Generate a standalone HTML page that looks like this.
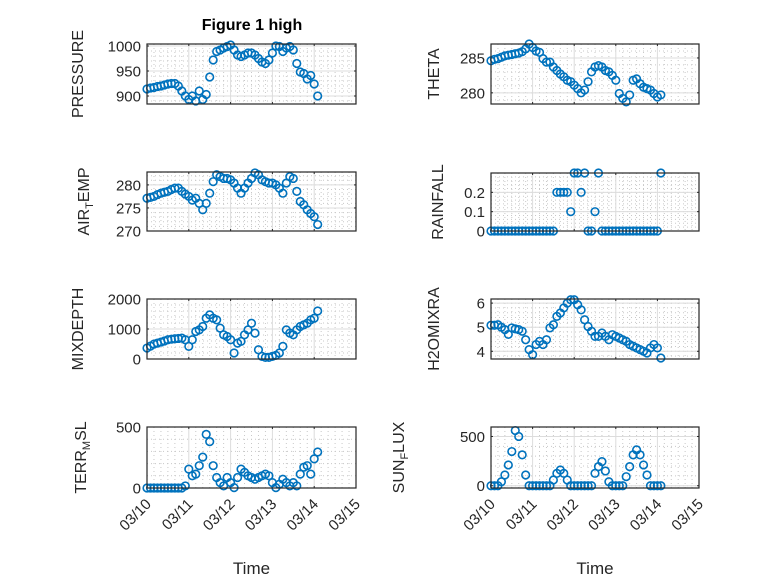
<!DOCTYPE html>
<html><head><meta charset="utf-8"><style>
html,body{margin:0;padding:0;background:#fff;}
svg{display:block;font-family:"Liberation Sans","DejaVu Sans",sans-serif;}
</style></head><body>
<svg id="fig" width="778" height="583" viewBox="0 0 778 583" xmlns="http://www.w3.org/2000/svg">
<rect width="778" height="583" fill="#fff"/>
<text x="252" y="30" text-anchor="middle" font-size="16" font-weight="bold" fill="#000">Figure 1 high</text>
</svg>
<script>
// shared time axis (hours since 03/10 00:00)
const hours = [0,2,4,6,8,10,12,14,16,18,20,22,24,26,28,30,32,34,36,38,40,42,44,46,48,50,52,54,56,58,60,62,64,66,68,70,72,74,76,78,80,82,84,86,88,90,92,94,96,98];
const xTickLabels = ["03/10","03/11","03/12","03/13","03/14","03/15"];
const pressure = [914,916,917,919,920,922,924,925,925,920,910,900,893,900,890,910,893,903,938,972,989,992,996,999,1002,992,982,979,982,986,986,982,975,968,965,972,986,1000,999,989,996,999,992,965,948,945,934,941,924,900];
const theta = [284.6,284.8,284.9,285.1,285.3,285.4,285.5,285.6,285.7,285.9,286.3,287,286.5,286,285.8,284.9,284.4,284.4,283.7,283.2,282.7,282.3,281.8,281.6,281.1,280.6,280,280.4,281.6,283,283.7,283.9,283.7,283.2,283,282.5,281.8,279.9,279.2,278.7,279.7,281.8,282,281.3,280.8,280.6,280.4,279.9,279.4,279.7];
const airTemp = [277.1,277.3,277.5,277.9,278.2,278.4,278.6,279,279.3,279.3,278.6,278,277.5,276.7,277.1,276,274.6,276,278.2,280.7,282.2,281.8,281.4,281.4,281.1,280.4,279.3,278.2,279.3,280.4,281.4,282.6,282.2,281.1,280.7,280.4,280.4,280,279.3,278.2,280.4,281.8,281.4,278.6,276.4,275.7,274.6,273.8,273.1,271.4];
const rainfall = [0,0,0,0,0,0,0,0,0,0,0,0,0,0,0,0,0,0,0,0.2,0.2,0.2,0.2,0.1,0.3,0.3,0.2,0.3,0,0,0.1,0.3,0,0,0,0,0,0,0,0,0,0,0,0,0,0,0,0,0,0.3];
const mixDepth = [365,430,497,530,564,600,641,660,674,685,696,641,420,641,917,972,1083,1359,1470,1359,1304,1028,807,751,641,199,530,586,807,972,1193,862,309,88,55,55,88,122,199,420,972,862,807,972,1083,1138,1193,1304,1359,1600];
const h2oMix = [5.08,5.08,5.1,5.0,4.9,4.7,4.97,4.93,4.9,4.83,4.48,4.07,3.86,4.28,4.41,4.28,4.48,4.97,5.1,5.45,5.59,5.8,6,6.14,6.14,5.93,5.72,5.31,5.03,4.83,4.62,4.62,4.76,4.62,4.48,4.69,4.62,4.55,4.48,4.41,4.28,4.21,4.14,4.07,4,3.93,4.14,4.28,4.14,3.72];
const terrMsl = [0,0,0,0,0,0,0,0,0,0,0,17,155,100,114,183,253,440,380,183,86,44,17,86,44,3,86,155,128,100,86,72,86,100,114,100,44,3,31,72,44,17,44,17,114,170,183,114,239,295];
const sunFlux = [0,0,0,41,109,211,347,560,500,313,109,0,0,0,0,0,0,0,58,126,160,126,58,0,0,0,0,0,0,0,126,194,245,150,41,0,0,0,0,92,194,313,364,313,211,109,0,0,0,0];

const NS="http://www.w3.org/2000/svg";
const svg=document.getElementById('fig');
function mk(tag,attrs,parent){const e=document.createElementNS(NS,tag);for(const k in attrs)e.setAttribute(k,attrs[k]);(parent||svg).appendChild(e);return e;}

const panels=[
 {name:'pressure',label:['PRESSURE'],data:pressure,x0:147,x1:356,y0:44,y1:104,lo:884,hi:1004,ticks:[900,950,1000],minor:10,lx:83},
 {name:'theta',label:['THETA'],data:theta,x0:491,x1:699,y0:44,y1:104,lo:278.4,hi:287,ticks:[280,285],minor:1,lx:439},
 {name:'air-temp',label:['AIR','T','EMP'],data:airTemp,x0:147,x1:356,y0:172,y1:231,lo:270,hi:282.8,ticks:[270,275,280],minor:1,lx:89},
 {name:'rainfall',label:['RAINFALL'],data:rainfall,x0:491,x1:699,y0:173,y1:231,lo:0,hi:0.3,ticks:[0,0.1,0.2],minor:0.02,lx:443},
 {name:'mixdepth',label:['MIXDEPTH'],data:mixDepth,x0:147,x1:356,y0:299,y1:359,lo:0,hi:2000,ticks:[0,1000,2000],minor:200,lx:83},
 {name:'h2omixra',label:['H2OMIXRA'],data:h2oMix,x0:491,x1:699,y0:299,y1:359,lo:3.68,hi:6.17,ticks:[4,5,6],minor:0.2,lx:439},
 {name:'terr-msl',label:['TERR','M','SL'],data:terrMsl,x0:147,x1:356,y0:427,y1:488,lo:0,hi:500,ticks:[0,500],minor:100,lx:86},
 {name:'sun-flux',label:['SUN','F','LUX'],data:sunFlux,x0:491,x1:699,y0:427,y1:488,lo:-23,hi:596,ticks:[0,500],minor:100,lx:404},
];

panels.forEach((p,pi)=>{
  const g=mk('g',{});
  
  
  const xs=d=>p.x0+(d/5)*(p.x1-p.x0);
  const ys=v=>p.y1-(v-p.lo)/(p.hi-p.lo)*(p.y1-p.y0);
  for(let h=4;h<120;h+=4){ if(h%24===0)continue; const x=xs(h/24);
    mk('line',{x1:x,x2:x,y1:p.y0,y2:p.y1,stroke:'#c8c8c8','stroke-width':1,'stroke-dasharray':'1 3'},g);}
  const start=Math.ceil(p.lo/p.minor);
  for(let k=start;k*p.minor<=p.hi+1e-9;k++){const v=k*p.minor; const y=ys(v);
    mk('line',{x1:p.x0,x2:p.x1,y1:y,y2:y,stroke:'#c8c8c8','stroke-width':1,'stroke-dasharray':'1 3'},g);}
  for(let d=1;d<5;d++){const x=xs(d); mk('line',{x1:x,x2:x,y1:p.y0,y2:p.y1,stroke:'#dcdcdc','stroke-width':1},g);}
  p.ticks.forEach(v=>{const y=ys(v); mk('line',{x1:p.x0,x2:p.x1,y1:y,y2:y,stroke:'#dcdcdc','stroke-width':1},g);
    const t=mk('text',{x:p.x0-6,y:y+5.5,'text-anchor':'end','font-size':15,fill:'#262626'},g);
    
    
    t.textContent=String(v);
    mk('line',{x1:p.x0,x2:p.x0+2,y1:y,y2:y,stroke:'#262626'},g);
    mk('line',{x1:p.x1,x2:p.x1-2,y1:y,y2:y,stroke:'#262626'},g);
  });
  for(let d=0;d<=5;d++){const x=xs(d);
    mk('line',{x1:x,x2:x,y1:p.y1,y2:p.y1-2,stroke:'#262626'},g);
    mk('line',{x1:x,x2:x,y1:p.y0,y2:p.y0+2,stroke:'#262626'},g);}
  const mg=mk('g',{},g);
  
  
  p.data.forEach((v,i)=>{
    const c=mk('circle',{cx:xs(hours[i]/24),cy:ys(v),r:3.8,fill:'none',stroke:'#0072BD','stroke-width':1.6},mg);
    
    
  });
  mk('rect',{x:p.x0,y:p.y0,width:p.x1-p.x0,height:p.y1-p.y0,fill:'none',stroke:'#262626','stroke-width':1.2},g);
  const cy=(p.y0+p.y1)/2;
  const yl=mk('text',{x:0,y:0,transform:`translate(${p.lx},${cy}) rotate(-90)`,'text-anchor':'middle','font-size':16,fill:'#262626'},g);
  
  
  if(p.label.length===1){yl.textContent=p.label[0];}
  else{
    const a=mk('tspan',{},yl); a.textContent=p.label[0];
    const b=mk('tspan',{'font-size':11,dy:4},yl); b.textContent=p.label[1];
    const c=mk('tspan',{dy:-4},yl); c.textContent=p.label[2];
  }
  if(pi>=6){
    xTickLabels.forEach((s,d)=>{const x=xs(d);
      const t=mk('text',{x:0,y:0,transform:`translate(${x+5},${p.y1+17}) rotate(-45)`,'text-anchor':'end','font-size':15,fill:'#262626'},g);
      
      
      t.textContent=s;});
    const xl=mk('text',{x:(p.x0+p.x1)/2,y:574,'text-anchor':'middle','font-size':17,fill:'#262626'},g);
    
    
    xl.textContent='Time';
  }
});
</script>
</body></html>
